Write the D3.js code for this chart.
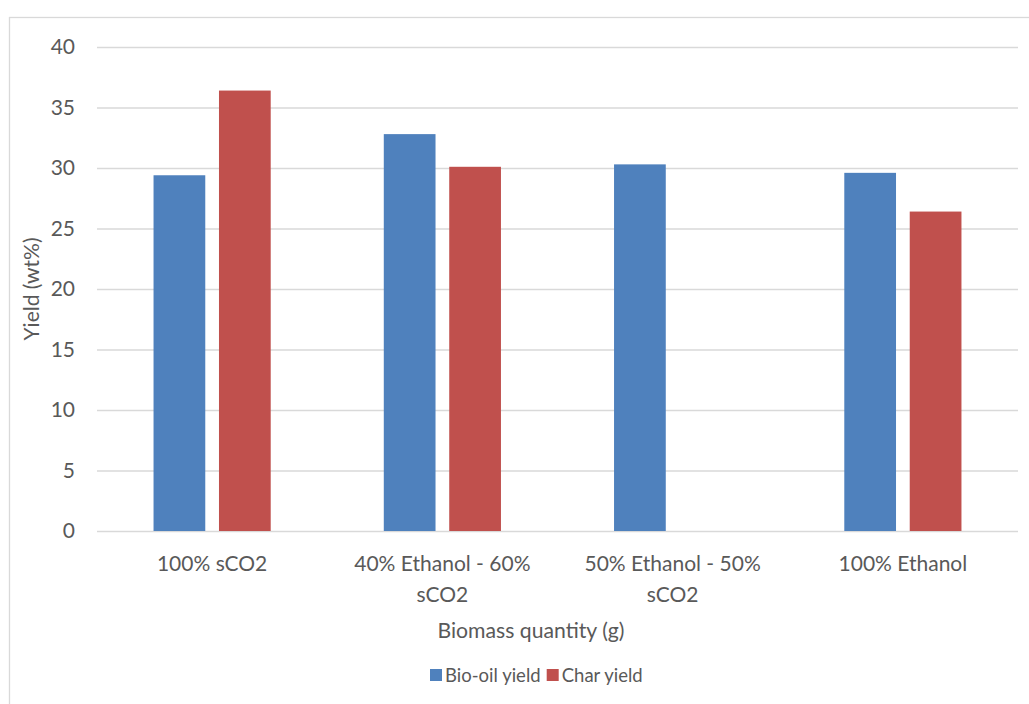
<!DOCTYPE html>
<html>
<head>
<meta charset="utf-8">
<script src="https://cdn.jsdelivr.net/npm/d3@7"></script>
<style>
  html, body { margin: 0; padding: 0; background: #ffffff; }
  svg { display: block; }
  text { font-family: Lato, "Open Sans", sans-serif; fill: #595959; }
</style>
</head>
<body>
<svg id="chart" width="1029" height="704"></svg>
<script>
// Yield per solvent mixture
const categories = ["100% sCO2", "40% Ethanol - 60% sCO2", "50% Ethanol - 50% sCO2", "100% Ethanol"];
const seriesNames = ["Bio-oil yield", "Char yield"];
const bioOilYield = [29.4, 32.8, 30.3, 29.6];
const charYield = [36.4, 30.1, null, 26.4];
const yTicks = [0, 5, 10, 15, 20, 25, 30, 35, 40];
const colors = ["#4f81bd", "#c0504d"];

const svg = d3.select("#chart");
const W = 1029, H = 704;
const plot = { left: 97, right: 1018, top: 47, bottom: 531 };

svg.append("rect").attr("width", W).attr("height", H).attr("fill", "#fff");
// chart area frame
svg.append("rect")
  .attr("x", 9.5).attr("y", 17.5).attr("width", 1100).attr("height", 1000)
  .attr("fill", "none").attr("stroke", "#d9d9d9").attr("stroke-width", 1.3);

const x = d3.scaleBand().domain(categories).range([plot.left, plot.right]).padding(0);
const xs = d3.scaleBand().domain(seriesNames).range([0, x.bandwidth()])
  .paddingInner(0.2095).paddingOuter(0.864);
const y = d3.scaleLinear().domain([0, 40]).range([plot.bottom, plot.top]);

// gridlines
const yAxis = d3.axisLeft(y).tickValues(yTicks).tickSize(-(plot.right - plot.left)).tickPadding(22);
const gy = svg.append("g").attr("transform", `translate(${plot.left},0)`).call(yAxis);
gy.select(".domain").remove();
gy.selectAll(".tick line").attr("stroke", "#d9d9d9").attr("stroke-width", 1.4);
gy.selectAll(".tick text").attr("font-size", 21).attr("fill", "#595959")
  .style("font-family", "Lato, 'Open Sans', sans-serif");

// bars
const rows = categories.map((c, i) => ({ cat: c, vals: [bioOilYield[i], charYield[i]] }));
const groups = svg.append("g").selectAll("g").data(rows).join("g")
  .attr("transform", d => `translate(${x(d.cat)},0)`);
groups.selectAll("rect")
  .data(d => d.vals.map((v, j) => ({ name: seriesNames[j], v, j })).filter(e => e.v != null))
  .join("rect")
  .attr("x", e => xs(e.name))
  .attr("width", xs.bandwidth())
  .attr("y", e => y(e.v))
  .attr("height", e => y(0) - y(e.v))
  .attr("fill", e => colors[e.j]);

// category labels, wrapped to the band width
const xAxis = d3.axisBottom(x).tickSize(0).tickPadding(0);
const gx = svg.append("g").attr("transform", `translate(0,${plot.bottom})`).call(xAxis);
gx.select(".domain").remove();
gx.selectAll(".tick text").remove();
gx.selectAll(".tick").each(function (d) {
  const t = d3.select(this).append("text")
    .attr("text-anchor", "middle").attr("font-size", 21).attr("y", 39.5);
  const words = d.split(" ");
  let line = [];
  let tspan = t.append("tspan").attr("x", 0).attr("dy", 0);
  for (const w of words) {
    line.push(w);
    tspan.text(line.join(" "));
    if (tspan.node().getComputedTextLength() > x.bandwidth() - 10 && line.length > 1) {
      line.pop();
      tspan.text(line.join(" "));
      line = [w];
      tspan = t.append("tspan").attr("x", 0).attr("dy", 31.5).text(w);
    }
  }
});

// axis titles
svg.append("text").attr("x", 531).attr("y", 638).attr("text-anchor", "middle")
  .attr("font-size", 21.2).text("Biomass quantity (g)");
svg.append("text").attr("transform", `translate(39,${(plot.top + plot.bottom) / 2}) rotate(-90)`)
  .attr("text-anchor", "middle").attr("font-size", 21).text("Yield (wt%)");

// legend
const legendX = [430, 546.7];
const lg = svg.append("g").selectAll("g").data(seriesNames).join("g")
  .attr("transform", (d, i) => `translate(${legendX[i]},669)`);
lg.append("rect").attr("width", 12).attr("height", 12).attr("fill", (d, i) => colors[i]);
lg.append("text").attr("x", 15).attr("y", 12.5).attr("font-size", 18.5).text(d => d);
</script>
</body>
</html>
